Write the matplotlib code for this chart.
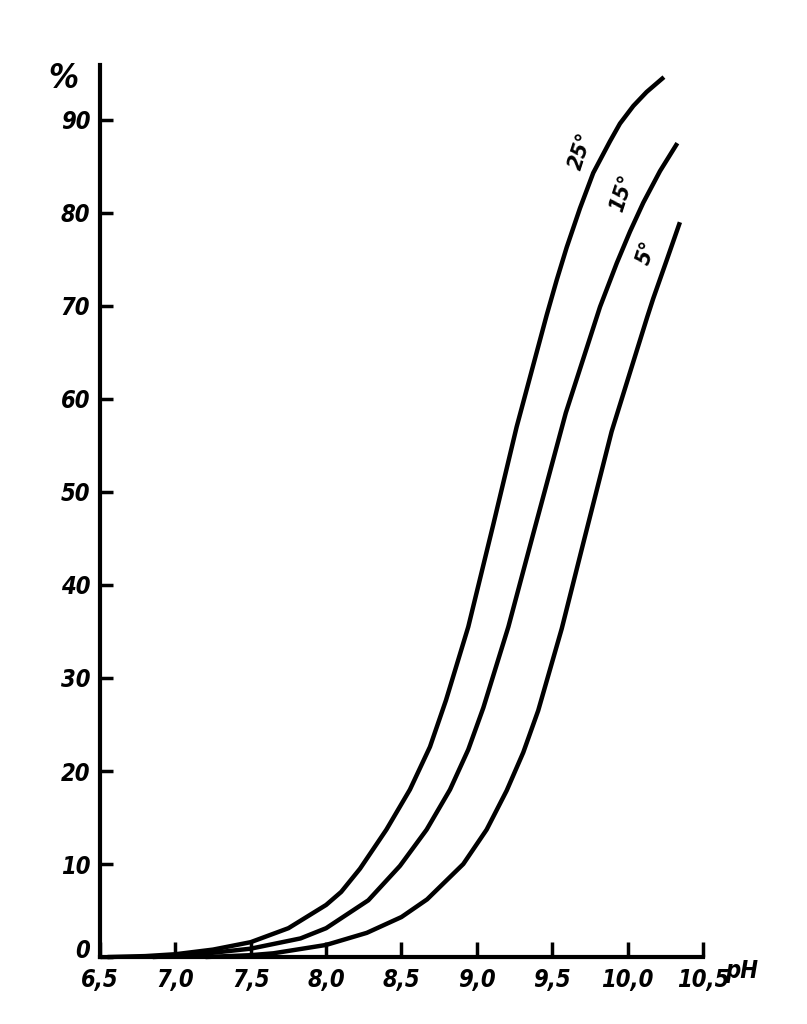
import matplotlib
matplotlib.use('Agg')
import matplotlib.pyplot as plt
from matplotlib.transforms import ScaledTranslation

# Кривые: доля (%) в зависимости от pH при разных температурах
ph_25 = [6.55, 6.8, 7.0, 7.25, 7.5, 7.75, 8.0, 8.1, 8.225, 8.40, 8.556, 8.689, 8.795,
         8.943, 9.109, 9.264, 9.463, 9.53, 9.596, 9.684, 9.772, 9.883, 9.949,
         10.038, 10.126, 10.241]
pct_25 = [0.0, 0.1, 0.3, 0.8, 1.6, 3.1, 5.6, 7.0, 9.5, 13.7, 18.0, 22.6, 27.6,
          35.5, 46.5, 57.0, 69.0, 72.8, 76.3, 80.5, 84.3, 87.7, 89.6,
          91.5, 93.0, 94.6]

ph_15 = [6.85, 7.1, 7.5, 7.83, 8.0, 8.28, 8.49, 8.667, 8.822, 8.943, 9.043,
         9.209, 9.374, 9.59, 9.817, 9.928, 10.016, 10.104, 10.215, 10.33]
pct_15 = [0.0, 0.2, 0.9, 2.0, 3.1, 6.1, 9.8, 13.7, 18.0, 22.3, 26.8,
          35.5, 45.5, 58.5, 69.9, 74.6, 78.0, 81.1, 84.5, 87.5]

ph_5 = [7.2, 7.5, 7.65, 8.0, 8.27, 8.5, 8.67, 8.91, 9.065, 9.198, 9.308, 9.407,
        9.563, 9.706, 9.894, 10.13, 10.17, 10.259, 10.347]
pct_5 = [0.0, 0.2, 0.4, 1.3, 2.6, 4.3, 6.2, 10.0, 13.7, 17.9, 22.0, 26.5,
         35.3, 44.5, 56.5, 68.8, 70.8, 74.9, 79.0]

x_ticks = [6.5, 7.0, 7.5, 8.0, 8.5, 9.0, 9.5, 10.0, 10.5]
x_labels = ['6,5', '7,0', '7,5', '8,0', '8,5', '9,0', '9,5', '10,0', '10,5']
y_ticks = [0, 10, 20, 30, 40, 50, 60, 70, 80, 90]
y_labels = ['0', '10', '20', '30', '40', '50', '60', '70', '80', '90']

font = dict(family=['DejaVu Sans'], weight='bold', style='italic', stretch='condensed')

fig = plt.figure(figsize=(8.07, 10.24), dpi=100)
ax = fig.add_axes([0.1239, 0.0654, 0.7472, 0.8711])

for xs, ys in [(ph_25, pct_25), (ph_15, pct_15), (ph_5, pct_5)]:
    ax.plot(xs, ys, color='black', lw=3.2, solid_capstyle='butt',
            solid_joinstyle='round', clip_on=False)

ax.set_xlim(6.5, 10.5)
ax.set_ylim(0, 95.9)
ax.spines['top'].set_visible(False)
ax.spines['right'].set_visible(False)
ax.spines['left'].set_linewidth(3)
ax.spines['bottom'].set_linewidth(3)

ax.set_xticks(x_ticks)
ax.set_xticklabels(x_labels, fontsize=17, **font)
ax.set_yticks(y_ticks)
ax.set_yticklabels(y_labels, fontsize=17, **font)
ax.tick_params(axis='x', direction='in', length=11, width=2.5, pad=8)
ax.tick_params(axis='y', direction='in', length=9, width=2.5, pad=7)

# ноль по оси Y чуть выше, как в оригинале
zero = ax.get_yticklabels()[0]
zero.set_transform(zero.get_transform() + ScaledTranslation(0, 6 / 72, fig.dpi_scale_trans))

# Подписи кривых
ax.text(9.69, 86.6, '25°', rotation=72, ha='center', va='center', fontsize=16, **font)
ax.text(9.965, 82.1, '15°', rotation=72, ha='center', va='center', fontsize=16, **font)
ax.text(10.127, 75.7, '5°', rotation=72, ha='center', va='center', fontsize=16, **font)

ax.text(6.257, 94.5, '%', ha='center', va='center', fontsize=24, clip_on=False, **font)
ax.text(10.76, -1.5, 'pH', ha='center', va='center', fontsize=17, clip_on=False, **font)

fig.savefig('out.png', dpi=100)
